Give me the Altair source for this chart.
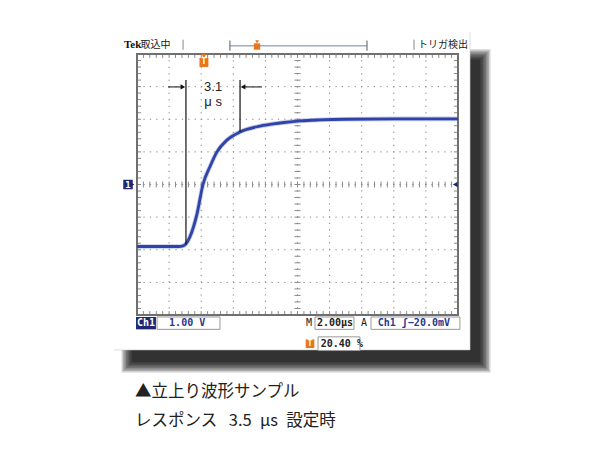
import altair as alt
import pandas as pd

# ---------------- data (time in µs, voltage in V; 2 µs/div, 1 V/div) ----------------
t_us = [0.0, 1.0, 2.0, 2.6, 2.87, 3.05, 3.30, 3.74, 4.11, 4.55, 4.98, 5.60, 6.42,
        7.66, 8.90, 10.16, 11.40, 13.0, 16.0, 20.0]
volts = [-1.90, -1.90, -1.90, -1.90, -1.88, -1.82, -1.60, -0.90, 0.00, 0.55, 1.00,
         1.36, 1.61, 1.79, 1.885, 1.95, 1.98, 2.00, 2.01, 2.01]

grid_t = [2, 4, 6, 8, 12, 14, 16, 18]
grid_v = [-3, -2, -1, 1, 2, 3]
minor_t = [round(0.4 * i, 2) for i in range(1, 50)]
minor_v = [round(0.2 * i - 4, 2) for i in range(1, 40)]

cursor_t = [3.05, 6.42]
cursor_lo = [-1.83, 1.61]
cursor_hi = 3.2
arrow_v = 2.99
rise_label = ["3.1", "μ s"]

header_left = ["Tek", "取込中"]
header_right = "トリガ検出"
caption = ["▲立上り波形サンプル", "レスポンス\u2002\u20093.5\u2002μs\u2002設定時"]
footer_boxes = ["1.00 V", "2.00µs", "Ch1 ʃ−20.0mV", "20.40 %"]

NAVY = "#1d2772"
BLUE = "#2f43a8"
ORANGE = "#e8761e"
MONO = "DejaVu Sans Mono"
JP = "Noto Sans CJK JP"

X = alt.X("x:Q", scale=alt.Scale(domain=[0, 20], nice=False, zero=False), axis=None)
Y = alt.Y("y:Q", scale=alt.Scale(domain=[-4, 4], nice=False, zero=False), axis=None)


def rects(rows, **mk):
    df = pd.DataFrame(rows, columns=["x", "x2", "y", "y2"])
    return alt.Chart(df).mark_rect(clip=False, **mk).encode(x=X, x2="x2:Q", y=Y, y2="y2:Q")


def vrules(xs, y0, y1, **mk):
    df = pd.DataFrame({"x": xs, "y": y0, "y2": y1})
    return alt.Chart(df).mark_rule(clip=False, **mk).encode(x=X, y=Y, y2="y2:Q")


def hrules(ys, x0, x1, **mk):
    df = pd.DataFrame({"y": ys, "x": x0, "x2": x1})
    return alt.Chart(df).mark_rule(clip=False, **mk).encode(x=X, x2="x2:Q", y=Y)


def texts(rows, **mk):
    df = pd.DataFrame(rows, columns=["x", "y", "t"])
    return alt.Chart(df).mark_text(clip=False, **mk).encode(x=X, y=Y, text="t:N")


def points(rows, **mk):
    df = pd.DataFrame(rows, columns=["x", "y"])
    return alt.Chart(df).mark_point(clip=False, **mk).encode(x=X, y=Y)


layers = []

# drop shadow (stacked soft layers)
for k in range(8):
    dx, dy = 0.0935 * k, 0.046 * k
    layers.append(rects([[-0.31 - dx, 21.37 + dx, 3.82 + dy, -5.44 - dy]],
                        color="#000000", opacity=0.18))
# white panel
layers.append(rects([[-1.43, 20.75, 4.67, -5.07]], fill="white"))
layers.append(vrules([20.75], 4.67, -5.07, color="#c8c8c8", strokeWidth=0.6))
layers.append(hrules([-5.07], -1.43, 20.75, color="#c8c8c8", strokeWidth=0.6))

# dotted graticule
layers.append(vrules(grid_t + [10], -4, 4, color="#8a8a8a", strokeWidth=1, strokeDash=[1.3, 5.2]))
layers.append(hrules(grid_v + [0], 0, 20, color="#8a8a8a", strokeWidth=1, strokeDash=[1.3, 5.1]))
# minor ticks on centre lines and borders
layers.append(vrules(minor_t, -0.09, 0.09, color="#8a8a8a", strokeWidth=1))
layers.append(hrules(minor_v, 9.81, 10.19, color="#8a8a8a", strokeWidth=1))
layers.append(vrules(minor_t, 3.88, 4, color="#8a8a8a", strokeWidth=1))
layers.append(vrules(minor_t, -4, -3.88, color="#8a8a8a", strokeWidth=1))
layers.append(hrules(minor_v, 0, 0.25, color="#8a8a8a", strokeWidth=1))
layers.append(hrules(minor_v, 19.75, 20, color="#8a8a8a", strokeWidth=1))
# border
layers.append(rects([[0, 20, 4, -4]], filled=False, stroke="#707070", strokeWidth=2))

# waveform
wave = pd.DataFrame({"x": t_us, "y": volts})
layers.append(alt.Chart(wave).mark_line(interpolate="monotone", color="#6a7cc8", strokeWidth=4.6,
                                        opacity=0.4).encode(x=X, y=Y))
layers.append(alt.Chart(wave).mark_line(interpolate="monotone", color=BLUE, strokeWidth=2.8)
              .encode(x=X, y=Y))

# rise-time cursors and arrows
layers.append(alt.Chart(pd.DataFrame({"x": cursor_t, "y": [cursor_hi] * 2, "y2": cursor_lo}))
              .mark_rule(color="#111111", strokeWidth=1.2).encode(x=X, y=Y, y2="y2:Q"))
layers.append(hrules([arrow_v], 1.93, 2.9, color="#111111", strokeWidth=1))
layers.append(hrules([arrow_v], 6.55, 7.79, color="#111111", strokeWidth=1))
layers.append(points([[2.86, arrow_v]], shape="triangle-right", filled=True, color="#111111",
                     size=28, opacity=1))
layers.append(points([[6.61, arrow_v]], shape="triangle-left", filled=True, color="#111111",
                     size=28, opacity=1))
layers.append(texts([[4.74, 2.99, rise_label[0]], [4.74, 2.53, rise_label[1]]],
                    font="Liberation Sans", fontSize=13, color="#222222", baseline="middle"))

# channel marker (left), trigger-level marker (right), trigger position (top)
layers.append(points([[-0.31, 0]], shape="triangle-right", filled=True, color=NAVY, size=30, opacity=1))
layers.append(points([[-0.56, 0]], shape="square", filled=True, color=NAVY, size=90, opacity=1))
layers.append(texts([[-0.56, 0, "1"]], font=MONO, fontSize=9, fontWeight="bold", color="white",
                    baseline="middle"))
layers.append(points([[19.83, 0]], shape="triangle-left", filled=True, color=NAVY, size=30, opacity=1))
layers.append(points([[4.17, 3.93]], shape="triangle-down", filled=True, color=ORANGE, size=25, opacity=1))
layers.append(points([[4.17, 3.74]], shape="square", filled=True, color=ORANGE, size=80, opacity=1))
layers.append(texts([[4.17, 3.74, "T"]], font=MONO, fontSize=8, fontWeight="bold", color="white",
                    baseline="middle"))

# header
layers.append(texts([[-0.81, 4.28, header_left[0]]], font="Liberation Serif", fontSize=11,
                    fontWeight="bold", color="#111111", align="left", baseline="middle"))
layers.append(texts([[0.22, 4.28, header_left[1]]], font=JP, fontSize=10, color="#222222",
                    align="left", baseline="middle"))
layers.append(texts([[20.62, 4.28, header_right]], font=JP, fontSize=10, color="#222222",
                    align="right", baseline="middle"))
layers.append(vrules([2.87, 17.26], 4.13, 4.44, color="#888888", strokeWidth=1))
layers.append(vrules([5.79, 14.33], 4.10, 4.41, color="#555555", strokeWidth=1))
layers.append(hrules([4.25], 5.79, 14.33, color="#7380a8", strokeWidth=1))
layers.append(points([[7.48, 4.37]], shape="triangle-down", filled=True, color=ORANGE, size=14, opacity=1))
layers.append(points([[7.48, 4.23]], shape="square", filled=True, color=ORANGE, size=40, opacity=1))

# footer readouts
layers.append(rects([[-0.06, 1.18, -4.06, -4.44]], color=NAVY))
layers.append(texts([[0.56, -4.25, "Ch1"]], font=MONO, fontSize=10, fontWeight="bold", color="white",
                    baseline="middle"))
layers.append(rects([[1.25, 5.17, -4.06, -4.44], [11.09, 13.52, -4.06, -4.44],
                     [14.58, 20.12, -4.06, -4.44], [11.28, 13.89, -4.67, -5.09]],
                    fill="white", stroke="#999999", strokeWidth=1))
layers.append(texts([[2.0, -4.25, footer_boxes[0]]], font=MONO, fontSize=10, fontWeight="bold",
                    color="#2b3990", align="left", baseline="middle"))
layers.append(texts([[11.21, -4.25, footer_boxes[1]]], font=MONO, fontSize=10, fontWeight="bold",
                    color="#222222", align="left", baseline="middle"))
layers.append(texts([[15.0, -4.25, footer_boxes[2]]], font=MONO, fontSize=10, fontWeight="bold",
                    color="#2b3990", align="left", baseline="middle"))
layers.append(texts([[11.45, -4.88, footer_boxes[3]]], font=MONO, fontSize=10, fontWeight="bold",
                    color="#222222", align="left", baseline="middle"))
layers.append(texts([[10.72, -4.25, "M"], [14.14, -4.25, "A"]], font=MONO, fontSize=10,
                    color="#222222", baseline="middle"))
layers.append(points([[10.78, -4.88]], shape="square", filled=True, color=ORANGE, size=75, opacity=1))
layers.append(texts([[10.78, -4.88, "T"]], font=MONO, fontSize=8, fontWeight="bold", color="white",
                    baseline="middle"))

# caption
layers.append(texts([[-0.12, -6.36, caption[0]], [-0.12, -7.26, caption[1]]], font=JP, fontSize=16.5,
                    color="#222222", align="left", baseline="middle"))

chart = alt.layer(*layers).properties(
    width=321, height=261,
    padding={"left": 129, "top": 46, "right": 134, "bottom": 127},
    autosize=alt.AutoSizeParams(type="none"),
    background="white",
).configure_view(stroke=None)

chart.save("out.html", embed_options={"renderer": "svg", "actions": False})
